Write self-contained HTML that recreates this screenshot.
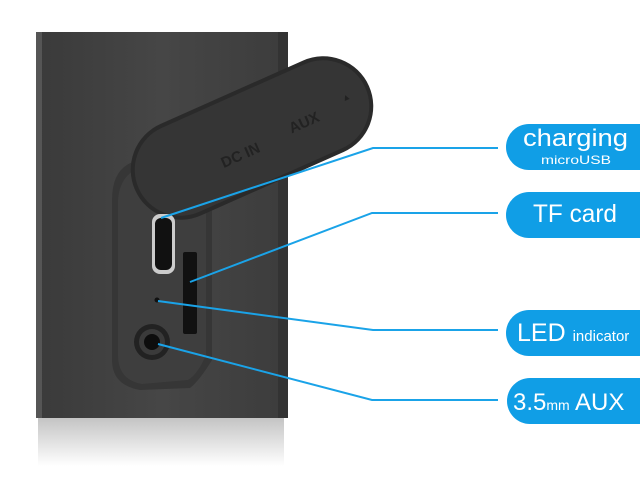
<!DOCTYPE html>
<html><head><style>
html,body{margin:0;padding:0;background:#fff;width:640px;height:480px;overflow:hidden}
svg{display:block}
text{font-family:"Liberation Sans",sans-serif;fill:#fff}
</style></head><body>
<svg width="640" height="480" viewBox="0 0 640 480">
<defs>
<linearGradient id="refl" x1="0" y1="0" x2="0" y2="1">
<stop offset="0" stop-color="#c4c4c4"/><stop offset="1" stop-color="#fff"/>
</linearGradient>
<linearGradient id="body" x1="0" y1="0" x2="1" y2="0">
<stop offset="0" stop-color="#3a3a3a"/><stop offset="0.5" stop-color="#464646"/><stop offset="1" stop-color="#3c3c3c"/>
</linearGradient>
</defs>
<rect x="38" y="418" width="246" height="48" fill="url(#refl)"/>
<rect x="36" y="32" width="252" height="386" fill="url(#body)"/>
<rect x="36" y="32" width="6" height="386" fill="#555"/>
<rect x="278" y="32" width="10" height="386" fill="#333"/>
<!-- recess -->
<path d="M112 200 Q112 165 140 160 L212 160 L212 360 Q200 380 190 388 L140 390 Q112 385 112 360 Z" fill="#363636"/>
<path d="M118 200 Q120 172 145 166 L206 166 L206 355 Q198 374 188 380 L142 384 Q118 380 118 355 Z" fill="#3e3e3e"/>
<!-- cap -->
<g transform="translate(252,138) rotate(-24)">
<rect x="-128" y="-50" width="256" height="100" rx="50" fill="#2a2a2a"/>
<rect x="-124" y="-46" width="248" height="92" rx="46" fill="#353535"/>
<text x="-38" y="16" font-size="15" style="fill:#222" font-weight="bold">DC IN</text>
<text x="38" y="12" font-size="15" style="fill:#222" font-weight="bold">AUX</text>
<text x="98" y="4" font-size="9" style="fill:#222">▲</text>
</g>
<rect x="152" y="214" width="23" height="60" rx="8" fill="#ccc"/>
<rect x="155" y="218" width="17" height="52" rx="6" fill="#111"/>
<rect x="183" y="252" width="14" height="82" rx="2" fill="#111"/>
<circle cx="157" cy="300" r="2.5" fill="#111"/>
<circle cx="152" cy="342" r="18" fill="#222"/>
<circle cx="152" cy="342" r="13" fill="#3a3a3a"/>
<circle cx="152" cy="342" r="8" fill="#0d0d0d"/>
<g stroke="#1aa3e8" stroke-width="2" fill="none">
<polyline points="161,218 373,148 498,148"/>
<polyline points="190,282 372,213 498,213"/>
<polyline points="158,301 373,330 498,330"/>
<polyline points="158,344 372,400 498,400"/>
</g>
<g fill="#109ee6">
<rect x="506" y="124" width="160" height="46" rx="23"/>
<rect x="506" y="192" width="160" height="46" rx="23"/>
<rect x="506" y="310" width="160" height="46" rx="23"/>
<rect x="507" y="378" width="160" height="46" rx="23"/>
</g>
<text x="523" y="146" font-size="24" textLength="105" lengthAdjust="spacingAndGlyphs">charging</text>
<text x="541" y="164" font-size="12" textLength="70" lengthAdjust="spacingAndGlyphs">microUSB</text>
<text x="533" y="222" font-size="25" textLength="84" lengthAdjust="spacingAndGlyphs">TF card</text>
<text x="517" y="341" font-size="25">LED <tspan font-size="15">indicator</tspan></text>
<text x="513" y="410" font-size="24">3.5<tspan font-size="14">mm</tspan> AUX</text>
</svg>
</body></html>
